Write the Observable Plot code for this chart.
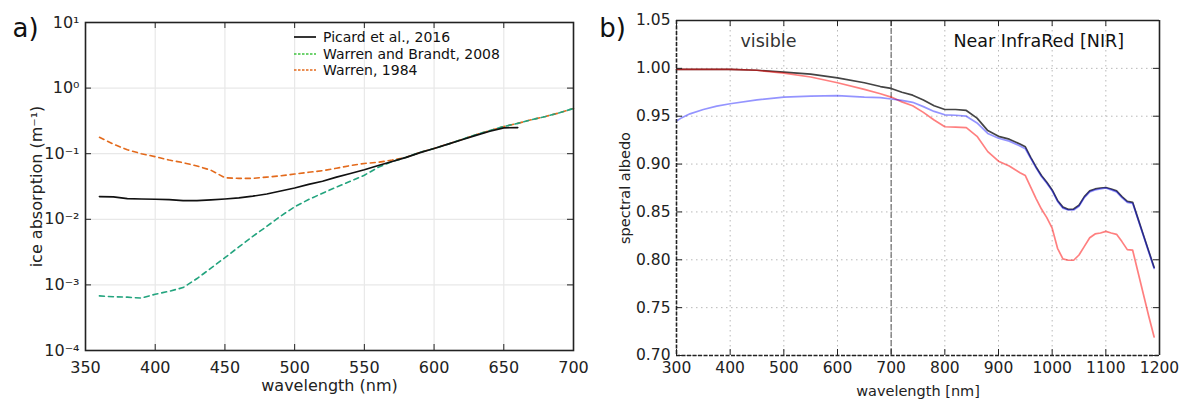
<!DOCTYPE html>
<html><head><meta charset="utf-8">
<script src="https://cdn.jsdelivr.net/npm/d3@7"></script>
<script src="https://cdn.jsdelivr.net/npm/@observablehq/plot@0.6"></script>
<style>
body{margin:0;background:#fff;font-family:"DejaVu Sans",sans-serif;}
#wrap{position:relative;width:1184px;height:400px;display:flex;background:#fff;}
.lg{position:absolute;left:294px;font-size:14px;color:#111;display:flex;align-items:center;height:16px;white-space:nowrap;}
.lg svg{margin-right:7px;}
</style></head><body><div id="wrap"></div>
<script>
// ---------- Panel a data ----------
const wlA = [360,370,380,390,400,410,420,430,440,450,460,470,480,490,500,510,520,530,540,550,560,570,580,590,600,610,620,630,640,650,660,670,680,690,700];
const picard2016 = [0.0222,0.0220,0.0207,0.0204,0.0202,0.0200,0.0192,0.0192,0.0198,0.0204,0.0212,0.0225,0.0243,0.0270,0.030,0.034,0.038,0.044,0.050,0.057,0.066,0.076,0.088,0.104,0.120,0.140,0.163,0.190,0.220,0.248,0.250];
const warrenBrandt2008 = [0.00068,0.00066,0.00065,0.00063,0.00072,0.00080,0.00091,0.00125,0.0018,0.0026,0.0038,0.0055,0.0078,0.0112,0.0155,0.020,0.025,0.031,0.038,0.047,0.062,0.076,0.088,0.105,0.120,0.140,0.165,0.195,0.225,0.260,0.290,0.330,0.370,0.420,0.490];
const warren1984 = [0.178,0.140,0.115,0.100,0.090,0.080,0.073,0.065,0.056,0.043,0.042,0.042,0.044,0.046,0.049,0.052,0.055,0.060,0.066,0.071,0.074,0.080,0.088,0.105,0.120,0.140,0.165,0.195,0.225,0.260,0.290,0.330,0.370,0.420,0.490];
const seriesA = ["Picard et al., 2016","Warren and Brandt, 2008","Warren, 1984"];
const xTicksA = [350,400,450,500,550,600,650,700];
const yTicksA = [1e-4,1e-3,1e-2,1e-1,1,10];
const yTickLabelsA = ["10⁻⁴","10⁻³","10⁻²","10⁻¹","10⁰","10¹"];

// ---------- Panel b data ----------
const wlB = [300,310,325,350,375,400,450,500,550,600,650,680,700,720,740,760,780,800,820,840,860,880,900,920,940,950,960,970,980,990,1000,1010,1020,1030,1040,1050,1060,1070,1080,1090,1100,1110,1120,1130,1140,1150,1160,1170,1180,1190];
const albedoBlack = [0.999,0.999,0.999,0.999,0.999,0.999,0.998,0.996,0.994,0.990,0.985,0.981,0.979,0.975,0.972,0.967,0.961,0.957,0.957,0.956,0.948,0.935,0.929,0.926,0.921,0.918,0.907,0.897,0.888,0.881,0.873,0.862,0.855,0.8527,0.853,0.857,0.866,0.872,0.874,0.875,0.8755,0.874,0.872,0.866,0.861,0.860,0.843,0.826,0.809,0.792];
const albedoRed = [0.999,0.999,0.999,0.999,0.999,0.999,0.998,0.995,0.991,0.985,0.978,0.9735,0.970,0.965,0.961,0.954,0.946,0.939,0.9385,0.938,0.929,0.913,0.903,0.898,0.891,0.888,0.876,0.864,0.853,0.844,0.833,0.812,0.801,0.7995,0.7995,0.805,0.814,0.823,0.827,0.828,0.8297,0.828,0.8266,0.819,0.8106,0.810,0.787,0.764,0.741,0.7194];
const albedoBlue = [0.945,0.9485,0.9525,0.957,0.9605,0.963,0.967,0.970,0.971,0.9715,0.970,0.9695,0.968,0.9665,0.9645,0.960,0.955,0.9515,0.951,0.950,0.943,0.932,0.927,0.924,0.919,0.916,0.906,0.896,0.887,0.880,0.872,0.861,0.854,0.852,0.852,0.856,0.865,0.871,0.873,0.874,0.875,0.873,0.871,0.865,0.860,0.859,0.842,0.825,0.808,0.791];
const xTicksB = [300,400,500,600,700,800,900,1000,1100,1200];
const yTicksB = [0.70,0.75,0.80,0.85,0.90,0.95,1.00,1.05];

// ---------- build tables ----------
const rowsA = [];
wlA.forEach((w,i)=>{
  if (i < picard2016.length) rowsA.push({s:seriesA[0], wl:w, k:picard2016[i]});
  rowsA.push({s:seriesA[1], wl:w, k:warrenBrandt2008[i]});
  rowsA.push({s:seriesA[2], wl:w, k:warren1984[i]});
});
const rowsB = wlB.map((w,i)=>({wl:w, black:albedoBlack[i], red:albedoRed[i], blue:albedoBlue[i]}));

const colA = {"Picard et al., 2016":"#111111","Warren and Brandt, 2008":"#23a47e","Warren, 1984":"#e36a1c"};
const dashA = {"Picard et al., 2016":null,"Warren and Brandt, 2008":"5,4","Warren, 1984":"5,4"};
const mid = {textAnchor: "middle", lineAnchor: "middle"};

const FA = 328, WA = 488; // frame size a (px)
const chartA = Plot.plot({
  width: 592, height: 400,
  marginLeft: 85, marginRight: 19, marginTop: 22, marginBottom: 50,
  style: {fontFamily: "DejaVu Sans, sans-serif", fontSize: "16px", color: "#222", background: "#fff", overflow: "visible"},
  x: {domain: [350, 700], label: null},
  y: {type: "log", domain: [1e-4, 10], label: null},
  marks: [
    Plot.gridX(xTicksA, {stroke: "#e8e8e8", strokeOpacity: 1, strokeWidth: 1.2}),
    Plot.gridY(yTicksA, {stroke: "#e8e8e8", strokeOpacity: 1, strokeWidth: 1.2}),
    ...seriesA.slice().reverse().map(s => Plot.line(rowsA.filter(d=>d.s===s), {
      x: "wl", y: "k", stroke: colA[s], strokeWidth: s===seriesA[0]?1.7:1.6, strokeDasharray: dashA[s]
    })),
    Plot.tickX(xTicksA, {x: d=>d, stroke: "#222", insetTop: FA-6}),
    Plot.tickX(xTicksA, {x: d=>d, stroke: "#222", insetBottom: FA-6}),
    Plot.tickY(yTicksA, {y: d=>d, stroke: "#222", insetRight: WA-6}),
    Plot.tickY(yTicksA, {y: d=>d, stroke: "#222", insetLeft: WA-6}),
    Plot.frame({stroke: "#222", strokeWidth: 1.6}),
    Plot.axisX(xTicksA, {anchor: "bottom", tickSize: 0, tickPadding: 11, tickFormat: d => String(d)}),
    Plot.axisY(yTicksA, {anchor: "left", tickSize: 0, tickPadding: 6, tickFormat: d => yTickLabelsA[yTicksA.indexOf(d)]}),
    Plot.text(["wavelength (nm)"], {text: d=>d, frameAnchor: "bottom", dy: 35, fontSize: 16, ...mid}),
    Plot.text(["ice absorption (m⁻¹)"], {text: d=>d, frameAnchor: "left", dx: -49, rotate: -90, fontSize: 16, ...mid}),
    Plot.text(["a)"], {text: d=>d, frameAnchor: "top-left", dx: -60, dy: 6, fontSize: 26, fill: "#111", ...mid})
  ]
});

const FB = 335, WB = 483;
const chartB = Plot.plot({
  width: 592, height: 400,
  marginLeft: 84, marginRight: 25, marginTop: 20, marginBottom: 45,
  style: {fontFamily: "DejaVu Sans, sans-serif", fontSize: "15.5px", color: "#222", background: "#fff", overflow: "visible"},
  x: {domain: [300, 1200], label: null},
  y: {domain: [0.70, 1.05], label: null},
  marks: [
    Plot.gridX(xTicksB, {stroke: "#b8b8b8", strokeOpacity: 1, strokeDasharray: "1.5,3.5"}),
    Plot.gridY(yTicksB, {stroke: "#b8b8b8", strokeOpacity: 1, strokeDasharray: "1.5,3.5"}),
    Plot.ruleX([700], {stroke: "#777", strokeWidth: 1.3, strokeDasharray: "6,2"}),
    Plot.line(rowsB, {x: "wl", y: "black", stroke: "#444", strokeWidth: 1.7}),
    Plot.line(rowsB, {x: "wl", y: "red", stroke: "#ff0000", strokeOpacity: 0.5, strokeWidth: 1.7}),
    Plot.line(rowsB, {x: "wl", y: "blue", stroke: "#0000ff", strokeOpacity: 0.42, strokeWidth: 1.7}),
    Plot.tickX(xTicksB, {x: d=>d, stroke: "#222", insetTop: FB-6}),
    Plot.tickX(xTicksB, {x: d=>d, stroke: "#222", insetBottom: FB-6}),
    Plot.tickY(yTicksB, {y: d=>d, stroke: "#222", insetRight: WB-6}),
    Plot.tickY(yTicksB, {y: d=>d, stroke: "#222", insetLeft: WB-6}),
    Plot.ruleY([1.05], {stroke: "#222", strokeWidth: 1.6}),
    Plot.ruleX([1200], {stroke: "#222", strokeWidth: 1.6}),
    Plot.ruleY([0.70], {stroke: "#222", strokeWidth: 1.6, strokeDasharray: "4,1.5"}),
    Plot.ruleX([300], {stroke: "#222", strokeWidth: 1.6, strokeDasharray: "4,1.5"}),
    Plot.axisX(xTicksB, {anchor: "bottom", tickSize: 0, tickPadding: 6, tickFormat: d => String(d)}),
    Plot.axisY(yTicksB, {anchor: "left", tickSize: 0, tickPadding: 6, tickFormat: d => d.toFixed(2)}),
    Plot.text(["visible"], {text: d=>d, frameAnchor: "top-left", textAnchor: "start", lineAnchor: "middle", dx: 64, dy: 21, fontSize: 17.5, fill: "#333"}),
    Plot.text(["Near InfraRed [NIR]"], {text: d=>d, frameAnchor: "top-left", textAnchor: "start", lineAnchor: "middle", dx: 277, dy: 21, fontSize: 17.5, fill: "#111"}),
    Plot.text(["wavelength [nm]"], {text: d=>d, frameAnchor: "bottom", dy: 36, fontSize: 14.5, ...mid}),
    Plot.text(["spectral albedo"], {text: d=>d, frameAnchor: "left", dx: -51, rotate: -90, fontSize: 14.5, ...mid}),
    Plot.text(["b)"], {text: d=>d, frameAnchor: "top-left", dx: -64, dy: 8, fontSize: 26, fill: "#111", ...mid})
  ]
});

const wrap = document.getElementById("wrap");
wrap.appendChild(chartA);
wrap.appendChild(chartB);

// legend (panel a)
const legTops = [29, 45.5, 62];
seriesA.forEach((s,i)=>{
  const d = document.createElement("div");
  d.className = "lg";
  d.style.top = legTops[i] + "px";
  const legCol = i===1 ? "#3fc43f" : colA[s];
  d.innerHTML = `<svg width="22" height="10"><line x1="0" x2="22" y1="5" y2="5" stroke="${legCol}" stroke-width="${i===0?1.7:1.5}" ${dashA[s]?'stroke-dasharray="2.5,1.5"':''}/></svg><span>${s}</span>`;
  wrap.appendChild(d);
});
</script></body></html>
